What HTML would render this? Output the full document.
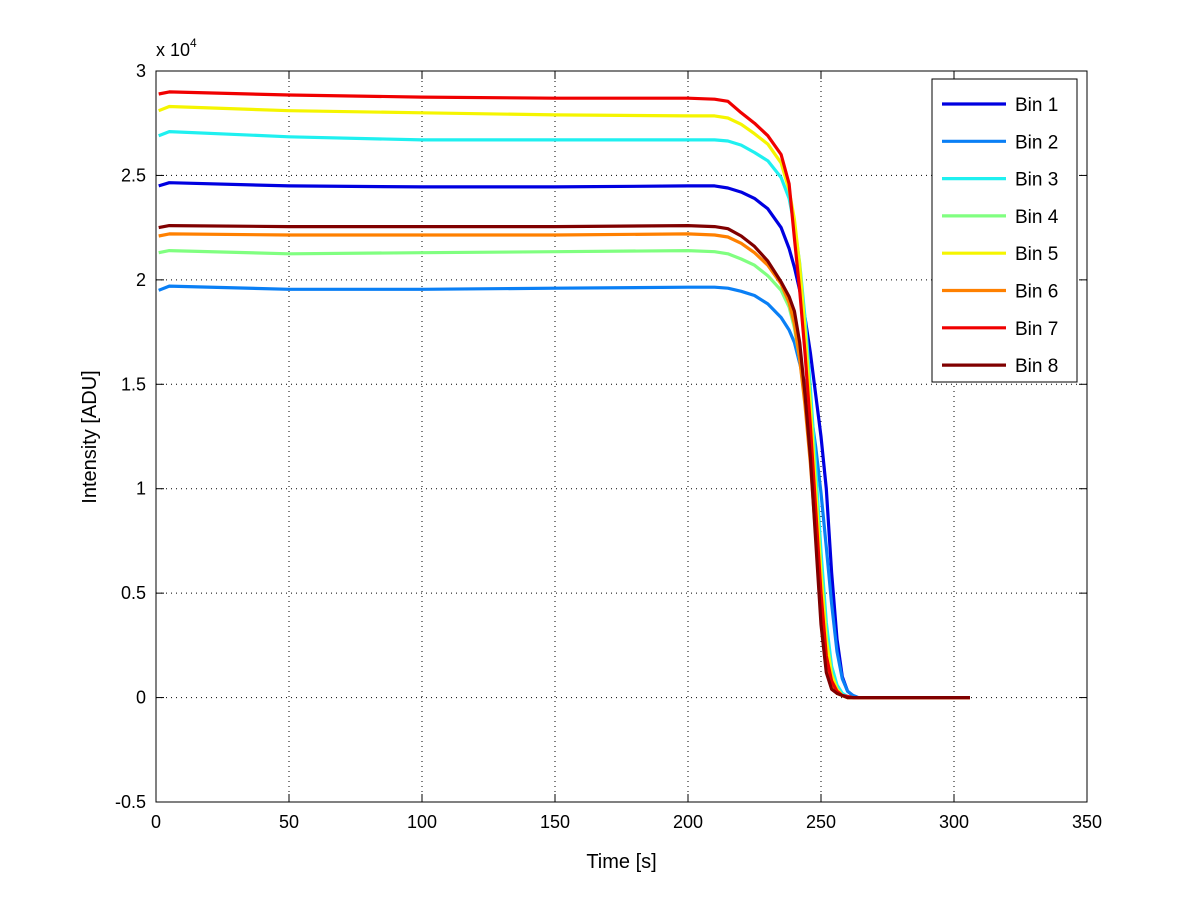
<!DOCTYPE html>
<html><head><meta charset="utf-8"><style>
body{margin:0;background:#fff;}
svg text{font-family:"Liberation Sans",sans-serif;fill:#000;}
</style></head><body>
<svg id="chart" width="1200" height="901" xmlns="http://www.w3.org/2000/svg">
<rect width="1200" height="901" fill="#fff"/>
<g id="grid"></g>
<g id="series"></g>
<g id="axes"></g>
<g id="legend"></g>
</svg>
<script>
const times=[1,5,50,100,150,200,210,215,220,225,230,235,238,240,242,244,246,248,250,252,254,256,258,260,262,264,280,306];
const bin1=[2.45,2.465,2.45,2.445,2.445,2.45,2.45,2.44,2.42,2.39,2.34,2.25,2.15,2.06,1.95,1.82,1.65,1.45,1.25,1.0,0.6,0.28,0.1,0.03,0.01,0,0,0];
const bin2=[1.95,1.97,1.955,1.955,1.96,1.965,1.965,1.96,1.945,1.925,1.885,1.82,1.76,1.7,1.6,1.5,1.38,1.2,0.98,0.72,0.45,0.22,0.09,0.03,0.01,0,0,0];
const bin3=[2.69,2.71,2.685,2.67,2.67,2.67,2.67,2.665,2.645,2.61,2.57,2.49,2.39,2.26,2.08,1.82,1.48,1.1,0.7,0.36,0.15,0.06,0.02,0.005,0,0,0,0];
const bin4=[2.13,2.14,2.125,2.13,2.135,2.14,2.135,2.125,2.1,2.07,2.02,1.95,1.87,1.77,1.62,1.42,1.17,0.86,0.52,0.24,0.1,0.04,0.01,0,0,0,0,0];
const bin5=[2.81,2.83,2.81,2.8,2.79,2.785,2.785,2.775,2.745,2.7,2.65,2.56,2.43,2.29,2.07,1.76,1.4,1.0,0.6,0.28,0.11,0.04,0.01,0,0,0,0,0];
const bin6=[2.21,2.22,2.215,2.215,2.215,2.22,2.215,2.205,2.175,2.13,2.07,1.98,1.89,1.79,1.62,1.4,1.12,0.78,0.42,0.16,0.06,0.02,0.01,0,0,0,0,0];
const bin7=[2.89,2.9,2.885,2.875,2.87,2.87,2.865,2.855,2.8,2.75,2.69,2.6,2.46,2.2,1.95,1.65,1.3,0.9,0.5,0.2,0.08,0.03,0.01,0.005,0,0,0,0];
const bin8=[2.25,2.26,2.255,2.255,2.255,2.26,2.255,2.245,2.21,2.16,2.09,1.99,1.92,1.85,1.7,1.45,1.15,0.75,0.35,0.12,0.04,0.02,0.01,0,0,0,0,0];
const seriesNames=["Bin 1","Bin 2","Bin 3","Bin 4","Bin 5","Bin 6","Bin 7","Bin 8"];
const seriesColors=["#0000e0","#0a7ff5","#1ff0f0","#80ff80","#f5f500","#ff8000","#f00000","#800000"];
const xTicks=[0,50,100,150,200,250,300,350];
const yTicks=[-0.5,0,0.5,1,1.5,2,2.5,3];
const allSeries=[bin1,bin2,bin3,bin4,bin5,bin6,bin7,bin8];

const L=156,R=1087,T=71,B=802,xMin=0,xMax=350,yMin=-0.5,yMax=3;
const xs=v=>L+(v-xMin)/(xMax-xMin)*(R-L);
const ys=v=>B-(v-yMin)/(yMax-yMin)*(B-T);
const NS="http://www.w3.org/2000/svg";
function mk(tag,attrs,parent){const e=document.createElementNS(NS,tag);for(const k in attrs)e.setAttribute(k,attrs[k]);parent.appendChild(e);return e;}
const grid=document.getElementById('grid'),axes=document.getElementById('axes'),ser=document.getElementById('series'),leg=document.getElementById('legend');

xTicks.forEach(t=>{const x=xs(t);
 if(t>xMin&&t<xMax){const g=mk('line',{x1:x,y1:T,x2:x,y2:B,stroke:'#000','stroke-width':1,'stroke-dasharray':'1,4'},grid);
 
 }
 mk('line',{x1:x,y1:B,x2:x,y2:B-8,stroke:'#000'},axes);
 mk('line',{x1:x,y1:T,x2:x,y2:T+8,stroke:'#000'},axes);
 const tx=mk('text',{x:x,y:B+26,'text-anchor':'middle','font-size':18},axes);tx.textContent=t;
 
 
});
yTicks.forEach(t=>{const y=ys(t);
 if(t>yMin&&t<yMax){const g=mk('line',{x1:L,y1:y,x2:R,y2:y,stroke:'#000','stroke-width':1,'stroke-dasharray':'1,4'},grid);
 
 }
 mk('line',{x1:L,y1:y,x2:L+8,y2:y,stroke:'#000'},axes);
 mk('line',{x1:R,y1:y,x2:R-8,y2:y,stroke:'#000'},axes);
 const tx=mk('text',{x:L-10,y:y+6,'text-anchor':'end','font-size':18},axes);tx.textContent=t;
 
 
});
const frame=mk('rect',{x:L,y:T,width:R-L,height:B-T,fill:'none',stroke:'#000','stroke-width':1},axes);


const xl=mk('text',{x:(L+R)/2,y:868,'text-anchor':'middle','font-size':20},axes);xl.textContent='Time [s]';


const yl=mk('text',{x:0,y:0,'text-anchor':'middle','font-size':20,transform:'translate(96,437) rotate(-90)'},axes);yl.textContent='Intensity [ADU]';


const ex=mk('text',{x:156,y:56,'font-size':18},axes);ex.innerHTML='x 10<tspan font-size="12" dy="-9">4</tspan>';



allSeries.forEach((vals,i)=>{
 const d=vals.map((v,j)=>(j?'L':'M')+xs(times[j]).toFixed(1)+','+ys(v).toFixed(1)).join(' ');
 const p=mk('path',{d:d,fill:'none',stroke:seriesColors[i],'stroke-width':3.2,'stroke-linejoin':'round'},ser);
 
 
});

const lb=mk('rect',{x:932,y:79,width:145,height:303,fill:'#fff',stroke:'#000'},leg);


seriesNames.forEach((n,i)=>{const y=104+i*37.3;
 const ln=mk('line',{x1:942,y1:y,x2:1006,y2:y,stroke:seriesColors[i],'stroke-width':3.2},leg);
 
 
 const t=mk('text',{x:1015,y:y+7,'font-size':19},leg);t.textContent=n;
 
 
});
</script>
</body></html>
